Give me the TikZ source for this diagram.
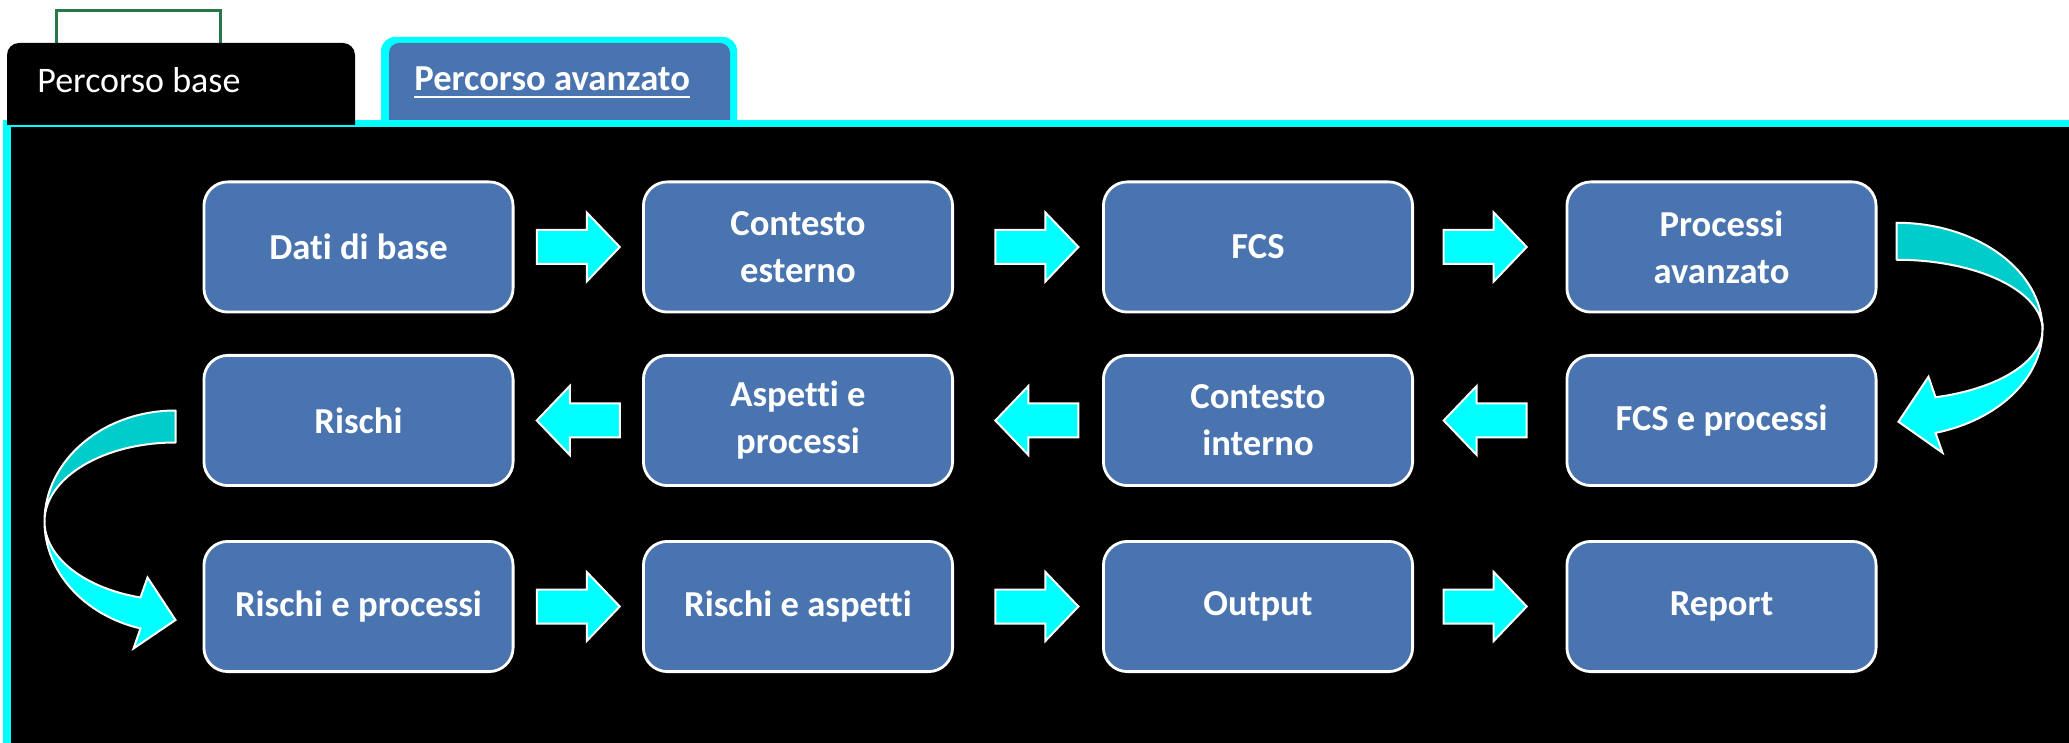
\documentclass[tikz,border=0pt]{standalone}
\usepackage{fontspec}
\setmainfont{Carlito}[Ligatures=CommonOff]
\usetikzlibrary{calc}
\definecolor{boxblue}{RGB}{74,116,176}
\definecolor{brightcyan}{RGB}{0,255,255}
\definecolor{darkcyan}{RGB}{0,204,204}
\definecolor{tabgreen}{RGB}{38,120,72}
\tikzset{
  box/.style={draw=white, line width=1.4pt, fill=boxblue, rounded corners=12pt,
    minimum width=154.6pt, minimum height=65.1pt, text=white,
    font=\fontsize{18.3}{23.5}\selectfont\bfseries, align=center, inner sep=0pt},
  arrowsty/.style={fill=brightcyan, draw=white, line width=1pt, line join=miter},
  curvedark/.style={fill=darkcyan, draw=white, line width=1pt, line join=round},
  curvebright/.style={fill=brightcyan, draw=white, line width=1pt, line join=miter},
  tabtext/.style={anchor=base west, inner sep=0pt, text=white},
  pics/blockarrow/.style={code={
    \path[arrowsty] (-41.5,-17) -- (8.5,-17) -- (8.5,-34.5) -- (41.5,0)
      -- (8.5,34.5) -- (8.5,17) -- (-41.5,17) -- cycle;}}
}
\begin{document}
\begin{tikzpicture}[x=0.5pt,y=-0.5pt]
\fill[white] (0,0) rectangle (2069,743);
\useasboundingbox (0,0) rectangle (2069,743);
% green cell marker
\draw[tabgreen, line width=1.5pt] (56,60) -- (56,11) -- (220,11) -- (220,60);
% active tab (blue, cyan outline)
\fill[brightcyan, rounded corners=7pt] (381,140) -- (381,37) -- (737,37) -- (737,140);
\fill[boxblue, rounded corners=5pt] (389,140) -- (389,43) -- (730,43) -- (730,140);
% main panel
\fill[black] (11,127) rectangle (2069,743);
\fill[brightcyan] (3,120) rectangle (2069,127);
\fill[brightcyan] (3,120) rectangle (11,743);
% inactive tab (black)
\fill[black, rounded corners=6pt] (7,125) -- (7,43) -- (355,43) -- (355,125);
\node[tabtext, font=\fontsize{18}{22}\selectfont] (t1) at (37,93) {Percorso base};
\node[tabtext, font=\fontsize{18.3}{22}\selectfont\bfseries] (t2) at (414,91) {Percorso avanzato};
\draw[white, line width=1pt] ($(t2.base west)+(0,6)$) -- ($(t2.base east)+(0,6)$);

% boxes
\node[box] (b1) at (358.5,247) {Dati di base};
\node[box] (b2) at (798,247) {Contesto\\esterno};
\node[box] (b3) at (1258,247) {FCS};
\node[box] (b4) at (1721.5,247) {Processi\\avanzato};
\node[box] (f1) at (358.5,420.5) {Rischi};
\node[box] (f2) at (798,420.5) {Aspetti e\\processi};
\node[box] (f3) at (1258,420.5) {Contesto\\interno};
\node[box] (f4) at (1721.5,420.5) {FCS e processi};
\node[box] (g1) at (358.5,606.5) {Rischi e processi};
\node[box] (g2) at (798,606.5) {Rischi e aspetti};
\node[box] (g3) at (1258,606.5) {Output};
\node[box] (g4) at (1721.5,606.5) {Report};

% straight block arrows
\pic at ($(b1.east)!0.5!(b2.west)$) {blockarrow};
\pic at ($(b2.east)!0.56!(b3.west)$) {blockarrow};
\pic at ($(b3.east)!0.47!(b4.west)$) {blockarrow};
\pic[rotate=180] at ($(f1.east)!0.5!(f2.west)$) {blockarrow};
\pic[rotate=180] at ($(f2.east)!0.56!(f3.west)$) {blockarrow};
\pic[rotate=180] at ($(f3.east)!0.47!(f4.west)$) {blockarrow};
\pic at ($(g1.east)!0.5!(g2.west)$) {blockarrow};
\pic at ($(g2.east)!0.56!(g3.west)$) {blockarrow};
\pic at ($(g3.east)!0.47!(g4.west)$) {blockarrow};

% curved arrow right (b4 -> f4)
\coordinate (rc) at ($(b4.south east)!0.5!(f4.north east)+(19,-4)$);
\path[curvedark] ($(rc)+(0,-107)$)
  arc[start angle=-90, end angle=0, x radius=146, y radius=107]
  arc[start angle=0, end angle=-90, x radius=146, y radius=70] -- cycle;
\path[curvebright] ($(rc)+(146,0)$)
  arc[start angle=0, end angle=74.5, x radius=146, y radius=107]
  -- ($(rc)+(46,123)$) -- ($(rc)+(2,92)$) -- ($(rc)+(32,47)$)
  -- ($(rc)+(39,67.5)$)
  arc[start angle=74.5, end angle=0, x radius=146, y radius=70] -- cycle;

% curved arrow left (f1 -> g1)
\coordinate (lc) at ($(f1.south west)!0.5!(g1.north west)+(-27,8)$);
\path[curvedark] ($(lc)+(0,-111)$)
  arc[start angle=-90, end angle=-180, x radius=131, y radius=111]
  arc[start angle=-180, end angle=-90, x radius=131, y radius=79] -- cycle;
\path[curvebright] ($(lc)+(-131,0)$)
  arc[start angle=180, end angle=105.5, x radius=131, y radius=111]
  -- ($(lc)+(-42,127)$) -- ($(lc)+(0,98.5)$) -- ($(lc)+(-28,56)$)
  -- ($(lc)+(-35,76)$)
  arc[start angle=105.5, end angle=180, x radius=131, y radius=79] -- cycle;
\end{tikzpicture}
\end{document}
